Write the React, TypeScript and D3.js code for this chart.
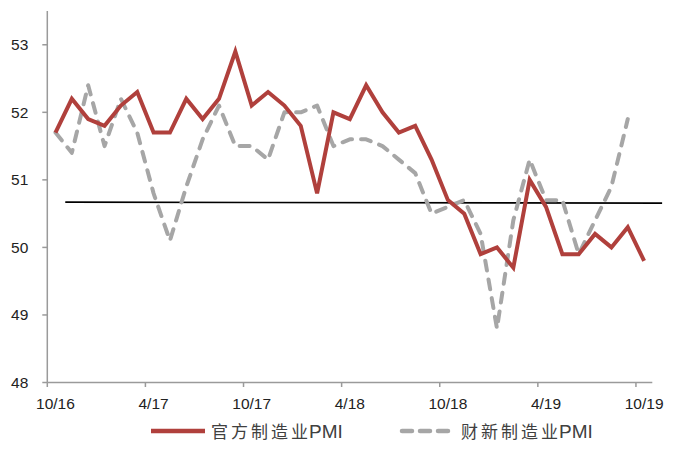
import React from "react";
import * as d3 from "d3";

// Monthly manufacturing PMI, Oct 2016 – Oct 2019
const months = [
  "10/16", "11/16", "12/16", "1/17", "2/17", "3/17", "4/17", "5/17", "6/17", "7/17", "8/17", "9/17",
  "10/17", "11/17", "12/17", "1/18", "2/18", "3/18", "4/18", "5/18", "6/18", "7/18", "8/18", "9/18",
  "10/18", "11/18", "12/18", "1/19", "2/19", "3/19", "4/19", "5/19", "6/19", "7/19", "8/19", "9/19",
  "10/19",
];

const officialPMI = [
  51.7, 52.2, 51.9, 51.8, 52.1, 52.3, 51.7, 51.7, 52.2, 51.9, 52.2, 52.9,
  52.1, 52.3, 52.1, 51.8, 50.8, 52.0, 51.9, 52.4, 52.0, 51.7, 51.8, 51.3,
  50.7, 50.5, 49.9, 50.0, 49.7, 51.0, 50.6, 49.9, 49.9, 50.2, 50.0, 50.3,
  49.8,
];

const caixinPMI = [
  51.7, 51.4, 52.4, 51.5, 52.2, 51.7, 50.8, 50.1, 50.9, 51.6, 52.1, 51.5,
  51.5, 51.3, 52.0, 52.0, 52.1, 51.5, 51.6, 51.6, 51.5, 51.3, 51.1, 50.5,
  50.6, 50.7, 50.2, 48.8, 50.4, 51.3, 50.7, 50.7, 49.9, 50.4, 50.9, 51.9,
];

// Horizontal reference line: [month position, value] at each end
const refLine: [number, number][] = [
  [1.1, 50.67],
  [37.6, 50.655],
];

const yTicks = [48, 49, 50, 51, 52, 53];
const xTickEvery = 6;

const seriesNames = ["官方制造业", "财新制造业"];

const RED = "#B0403C";
const GRAY = "#A6A6A6";
const AXIS = "#9A9A9A";
const FONT = "'Liberation Sans', Arial, sans-serif";
const CJK = "'Noto Sans CJK SC', 'Liberation Sans', sans-serif";

function LegendLabel({ x, y, name }: { x: number; y: number; name: string }) {
  const head = name.slice(0, -1);
  const last = name.slice(-1);
  return (
    <text x={x} y={y} fill="#404040">
      <tspan fontFamily={CJK} fontSize={17} letterSpacing={3}>
        {head}
      </tspan>
      <tspan fontFamily={CJK} fontSize={17}>
        {last}
      </tspan>
      <tspan fontFamily={FONT} fontSize={19} dx={1}>
        PMI
      </tspan>
    </text>
  );
}

export default function App() {
  const width = 682;
  const height = 456;

  const x = d3.scaleLinear().domain([0, months.length]).range([47.3, 652.3]);
  const y = d3.scaleLinear().domain([48, 53.5]).range([382.5, 11]);

  const lineGen = d3
    .line<number>()
    .x((_, i) => x(i + 0.5))
    .y((d) => y(d))
    .curve(d3.curveLinear);

  const refGen = d3
    .line<[number, number]>()
    .x((d) => x(d[0]))
    .y((d) => y(d[1]));

  const tickIdx = d3.range(0, months.length, xTickEvery);

  return (
    <svg
      width={width}
      height={height}
      style={{ position: "absolute", left: 0, top: 0, background: "#fff" }}
    >
      {/* y axis */}
      <line x1={x(0)} x2={x(0)} y1={y(53.5)} y2={y(48)} stroke={AXIS} strokeWidth={1.5} />
      {yTicks.map((t) => (
        <g key={t}>
          <line x1={x(0) - 5} x2={x(0)} y1={y(t)} y2={y(t)} stroke={AXIS} strokeWidth={1.5} />
          <text
            x={x(0) - 19}
            y={y(t) + 5.5}
            textAnchor="end"
            fontFamily={FONT}
            fontSize={15.5}
            fill="#222"
          >
            {t}
          </text>
        </g>
      ))}

      {/* x axis */}
      <line x1={x(0)} x2={x(months.length)} y1={y(48)} y2={y(48)} stroke={AXIS} strokeWidth={1.5} />
      {tickIdx.map((i) => (
        <g key={i}>
          <line x1={x(i)} x2={x(i)} y1={y(48)} y2={y(48) + 4.5} stroke={AXIS} strokeWidth={1.5} />
          <text
            x={x(i + 0.5)}
            y={y(48) + 26}
            textAnchor="middle"
            fontFamily={FONT}
            fontSize={15.5}
            fill="#222"
          >
            {months[i]}
          </text>
        </g>
      ))}

      {/* reference line */}
      <path d={refGen(refLine) ?? ""} fill="none" stroke="#000" strokeWidth={1.6} />

      {/* Caixin PMI */}
      <path
        d={lineGen(caixinPMI) ?? ""}
        fill="none"
        stroke={GRAY}
        strokeWidth={4}
        strokeDasharray="10 9"
        strokeLinecap="round"
        strokeLinejoin="round"
      />

      {/* Official PMI */}
      <path
        d={lineGen(officialPMI) ?? ""}
        fill="none"
        stroke={RED}
        strokeWidth={4}
        strokeLinejoin="miter"
      />

      {/* legend */}
      <g>
        <line x1={151} x2={205} y1={431} y2={431} stroke={RED} strokeWidth={4.5} />
        <LegendLabel x={211} y={437.5} name={seriesNames[0]} />
        <line
          x1={402}
          x2={452}
          y1={431}
          y2={431}
          stroke={GRAY}
          strokeWidth={4.5}
          strokeDasharray="10 8"
          strokeLinecap="round"
        />
        <LegendLabel x={461} y={437.5} name={seriesNames[1]} />
      </g>
    </svg>
  );
}
